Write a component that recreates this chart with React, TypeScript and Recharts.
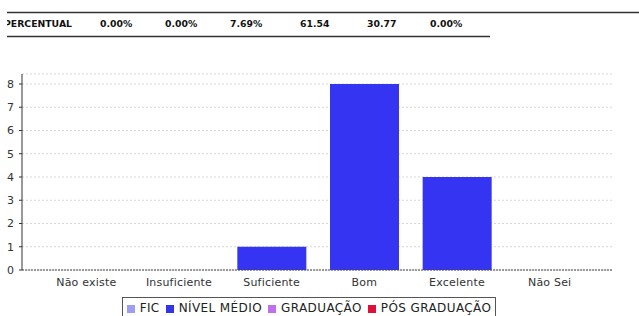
import React from "react";
import { BarChart, Bar, XAxis, YAxis, CartesianGrid, Legend } from "recharts";

const categories = ["Não existe", "Insuficiente", "Suficiente", "Bom", "Excelente", "Não Sei"];
const nivelMedio = [0, 0, 1, 8, 4, 0];
const yTicks = [0, 1, 2, 3, 4, 5, 6, 7, 8];
const percentLabel = "PERCENTUAL";
const percentValues = ["0.00%", "0.00%", "7.69%", "61.54", "30.77", "0.00%"];
const percentX = [100, 165, 230, 300, 367, 430];
const legendItems = [
  { name: "FIC", color: "#9d9df2" },
  { name: "NÍVEL MÉDIO", color: "#3434e8" },
  { name: "GRADUAÇÃO", color: "#c070ee" },
  { name: "PÓS GRADUAÇÃO", color: "#e0103c" },
];

const data = categories.map((c, i) => ({ name: c, nivel: nivelMedio[i] }));

const FONT = "'DejaVu Sans', sans-serif";

const LegendBox = () => (
  <div
    style={{
      width: 374,
      height: 22,
      border: "1px solid #555",
      boxSizing: "border-box",
      display: "flex",
      alignItems: "flex-start",
      justifyContent: "center",
      paddingTop: 4,
      fontFamily: FONT,
      fontSize: 12,
      letterSpacing: 0.4,
      color: "#222",
      background: "#fff",
    }}
  >
    {legendItems.map((it, i) => (
      <span key={it.name} style={{ display: "flex", alignItems: "center", marginLeft: i === 0 ? 0 : 6 }}>
        <span style={{ width: 8, height: 8, background: it.color, display: "inline-block", marginRight: 5 }} />
        <span style={{ lineHeight: "13px" }}>{it.name}</span>
      </span>
    ))}
  </div>
);

export default function App() {
  return (
    <div style={{ position: "absolute", left: 0, top: 0, width: 639, height: 316, background: "#fff", overflow: "hidden" }}>
      <svg width={639} height={50} style={{ position: "absolute", left: 0, top: 0 }}>
        <line x1={7} y1={12.5} x2={639} y2={12.5} stroke="#333" strokeWidth={1.5} />
        <line x1={7} y1={36.5} x2={490} y2={36.5} stroke="#333" strokeWidth={1.5} />
        <clipPath id="clipP">
          <rect x={7} y={0} width={632} height={50} />
        </clipPath>
        <g clipPath="url(#clipP)" fontFamily={FONT} fontWeight="bold" fontSize={9.3} fill="#111">
          <text x={4} y={27}>{percentLabel}</text>
          {percentValues.map((v, i) => (
            <text key={i} x={percentX[i]} y={27}>{v}</text>
          ))}
        </g>
      </svg>
      <div style={{ position: "absolute", left: 0, top: 0 }}>
        <BarChart width={639} height={316} data={data} margin={{ top: 74, right: 27, left: 0, bottom: 26 }}>
          <CartesianGrid vertical={false} stroke="#d6d6d6" strokeDasharray="2 2" />
          <XAxis
            dataKey="name"
            height={20}
            padding={{ left: 18, right: 16 }}
            tickLine={false}
            tickSize={0}
            tickMargin={8}
            axisLine={{ stroke: "#444", strokeDasharray: "2 1" }}
            tick={{ fontFamily: FONT, fontSize: 11, fill: "#333", letterSpacing: 0.2 }}
            interval={0}
          />
          <YAxis
            width={22}
            domain={[0, 8.43]}
            ticks={yTicks}
            allowDataOverflow
            tickSize={3}
            tickMargin={5}
            axisLine={{ stroke: "#333" }}
            tickLine={{ stroke: "#333" }}
            tick={{ fontFamily: FONT, fontSize: 11, fill: "#333" }}
          />
          <Legend
            layout="horizontal"
            verticalAlign="middle"
            align="center"
            wrapperStyle={{ top: 297, left: 122, width: 374 }}
            content={() => <LegendBox />}
          />
          <Bar dataKey="nivel" name="NÍVEL MÉDIO" fill="#3434f2" barSize={69} isAnimationActive={false} />
        </BarChart>
      </div>
    </div>
  );
}
